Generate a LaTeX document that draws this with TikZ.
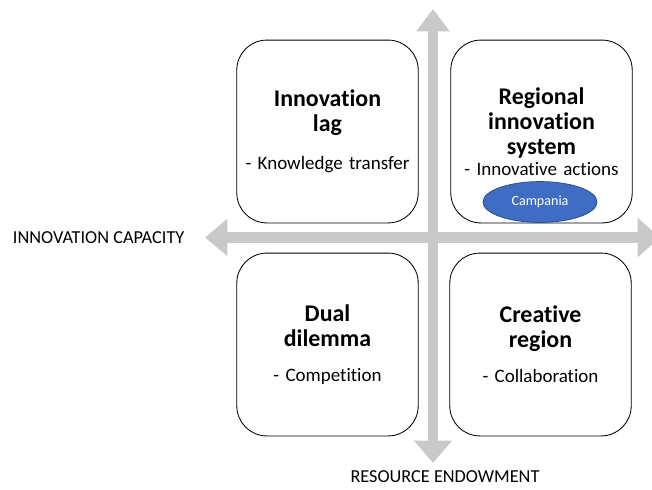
\documentclass[tikz,border=0pt]{standalone}
\usepackage{fontspec}
\setmainfont{Carlito}[Ligatures=NoCommon]
\usepackage{xcolor}
\usetikzlibrary{arrows.meta,shapes.geometric}

\definecolor{axisgray}{HTML}{C9C9C9}
\definecolor{campblue}{HTML}{3F6DC3}
\definecolor{campedge}{HTML}{2C4F8F}

\newcommand{\qtitle}[1]{{\fontsize{17}{17.6}\selectfont\bfseries #1\par}}

\begin{document}
\begin{tikzpicture}[x=0.025cm, y=-0.025cm,
  quadrant/.style={draw, fill=white, line width=0.6pt, rounded corners=0.75cm, minimum width=4.52cm, minimum height=4.57cm, text width=4.3cm, align=center, font=\fontsize{13.5}{15}\selectfont},
  axislabel/.style={font=\fontsize{13}{15}\selectfont}]
  \useasboundingbox (0,0) rectangle (652,489);

  % the two axes
  \coordinate (top) at (433,9);
  \coordinate (bottom) at (433,463);
  \coordinate (left) at (205,237.5);
  \coordinate (right) at (660,237.5);
  \draw[draw=axisgray, line width=0.25cm, {Triangle[width=0.92cm,length=0.56cm]}-{Triangle[width=0.8cm,length=0.56cm]}] (bottom) -- (top);
  \draw[draw=axisgray, line width=0.28cm, {Triangle[width=0.9cm,length=0.56cm]}-{Triangle[width=0.95cm,length=0.56cm]}] (left) -- (right);

  % four quadrants
  \node[quadrant] (lag) at (327.5,131.5) {\qtitle{Innovation\\ lag}\vspace{12pt}- Knowledge transfer};
  \node[quadrant] (ris) at (541.5,131.5) {\qtitle{Regional\\ innovation\\ system}\vspace{0pt}- Innovative actions\par\vspace{22pt}};
  \node[quadrant] (dual) at (327.5,344.5) {\qtitle{Dual\\ dilemma}\vspace{10pt}- Competition};
  \node[quadrant] (creative) at (540.5,344.5) {\qtitle{Creative\\ region}\vspace{10pt}- Collaboration};

  \node[ellipse, fill=campblue, draw=campedge, line width=0.6pt, minimum width=2.85cm, minimum height=1.02cm, text=white, font=\fontsize{10}{12}\selectfont] (campania) at (540,202) {Campania};

  \node[axislabel, anchor=west] (capacity) at (8,238) {INNOVATION CAPACITY};
  \node[axislabel] (endowment) at (445,477) {RESOURCE ENDOWMENT};
\end{tikzpicture}
\end{document}
